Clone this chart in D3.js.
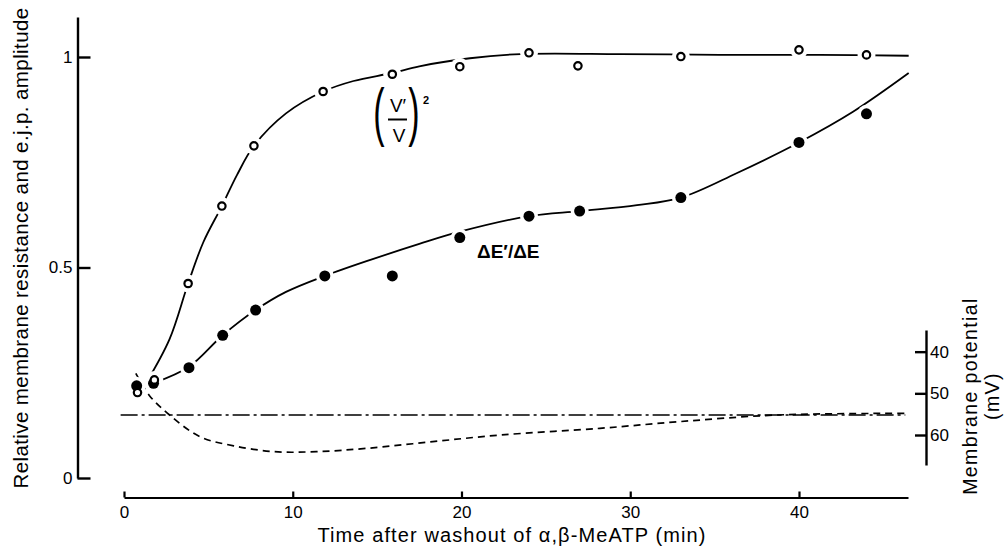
<!DOCTYPE html>
<html>
<head>
<meta charset="utf-8">
<script src="https://cdn.jsdelivr.net/npm/d3@7/dist/d3.min.js"></script>
<style>
  body { margin: 0; background: #fff; }
  svg { font-family: "Liberation Sans", Arial, Helvetica, sans-serif; }
  .axis path, .axis line { stroke: #000; }
  .axis text { font-size: 17px; fill: #000; font-family: "Liberation Sans", Arial, sans-serif; }
</style>
</head>
<body>
<svg id="chart" width="1007" height="552"></svg>
<script>

// (V'/V)^2 points, open circles  (time in min after washout)
var openTimes  = [0.8, 1.8, 3.8, 5.8, 7.7, 11.8, 15.9, 19.9, 24, 26.9, 33, 40, 44];
var openValues = [0.203, 0.233, 0.462, 0.646, 0.789, 0.918, 0.959, 0.977, 1.010, 0.979, 1.001, 1.017, 1.005];

// dE'/dE points, filled circles
var filledTimes  = [0.75, 1.75, 3.85, 5.85, 7.8, 11.9, 15.9, 19.9, 24, 27, 33, 40, 44];
var filledValues = [0.219, 0.225, 0.262, 0.339, 0.399, 0.480, 0.480, 0.571, 0.622, 0.634, 0.666, 0.797, 0.865];

// hand drawn curves through the points
var openFitTimes  = [1.3, 2.7, 3.8, 4.7, 5.8, 6.7, 7.7, 9.6, 11.8, 13.6, 15.9, 17.5, 20.5, 23.5, 29.4, 35.3, 41.2, 46.5];
var openFitValues = [0.225, 0.33, 0.462, 0.56, 0.646, 0.72, 0.789, 0.866, 0.918, 0.943, 0.962, 0.978, 0.997, 1.007, 1.007, 1.005, 1.005, 1.003];

var filledFitTimes  = [1.8, 3.85, 5.85, 7.8, 9.6, 11.9, 14.6, 17.5, 19.9, 24, 27, 30.4, 33, 36.3, 40, 43.2, 46.5];
var filledFitValues = [0.226, 0.264, 0.339, 0.399, 0.442, 0.480, 0.518, 0.556, 0.585, 0.622, 0.634, 0.648, 0.666, 0.724, 0.797, 0.87, 0.962];

// membrane potential (mV), dashed line, right axis
var potTimes  = [0.7, 1.5, 2.7, 4.5, 6.5, 8.9, 11.4, 14.4, 18.3, 22.3, 28.2, 32.9, 38.7, 46.4];
var potValues = [45.2, 50.5, 55.2, 60.4, 62.6, 64.0, 64.0, 63.2, 61.6, 60.0, 58.4, 56.8, 55.2, 54.8];

// resting potential, dash-dot line
var restTimes  = [-0.2, 46.3];
var restValues = [55.2, 55.2];

// tick labels
var xTicks   = [0, 10, 20, 30, 40];
var yTicks   = [0, 0.5, 1];
var potTicks = [40, 50, 60];

var svg = d3.select("#chart");

// scales
var xScale = d3.scaleLinear().domain([0, 46.46]).range([124, 908]);
var yScale = d3.scaleLinear().domain([0, 1.095]).range([478, 17]);
var potScale = d3.scaleLinear().domain([34.8, 67.2]).range([330, 465]);

// left axis, ticks pointing inwards
var yAxis = svg.append("g")
    .attr("class", "axis")
    .attr("transform", "translate(77.5,0)")
    .call(d3.axisLeft(yScale).tickValues(yTicks).tickFormat(d3.format("")).tickSizeInner(-13).tickSizeOuter(0).tickPadding(5));
yAxis.selectAll("path, line").attr("stroke-width", 2.4);

// bottom axis
var xAxis = svg.append("g")
    .attr("class", "axis")
    .attr("transform", "translate(0,497.5)")
    .call(d3.axisBottom(xScale).tickValues(xTicks).tickSizeInner(-6).tickSizeOuter(0).tickPadding(8));
xAxis.selectAll("path, line").attr("stroke-width", 2.2);

// right axis (membrane potential)
var potAxis = svg.append("g")
    .attr("class", "axis")
    .attr("transform", "translate(926,0)")
    .call(d3.axisRight(potScale).tickValues(potTicks).tickSizeInner(-11).tickSizeOuter(0).tickPadding(5));
potAxis.selectAll("path, line").attr("stroke-width", 2.4);
potAxis.selectAll("text").attr("x", 4);

// lines
function makeLine(scaleY) {
    return d3.line()
        .x(function(d) { return xScale(d[0]); })
        .y(function(d) { return scaleY(d[1]); })
        .curve(d3.curveCatmullRom.alpha(0.5));
}

svg.append("path")
    .datum(d3.zip(restTimes, restValues))
    .attr("fill", "none")
    .attr("stroke", "#000")
    .attr("stroke-width", 1.5)
    .attr("stroke-dasharray", "17,4,3,4")
    .attr("d", makeLine(potScale));

svg.append("path")
    .datum(d3.zip(potTimes, potValues))
    .attr("fill", "none")
    .attr("stroke", "#000")
    .attr("stroke-width", 1.7)
    .attr("stroke-dasharray", "7,5")
    .attr("d", makeLine(potScale));

svg.append("path")
    .datum(d3.zip(openFitTimes, openFitValues))
    .attr("fill", "none")
    .attr("stroke", "#000")
    .attr("stroke-width", 1.8)
    .attr("d", makeLine(yScale));

svg.append("path")
    .datum(d3.zip(filledFitTimes, filledFitValues))
    .attr("fill", "none")
    .attr("stroke", "#000")
    .attr("stroke-width", 1.8)
    .attr("d", makeLine(yScale));

var openData = d3.zip(openTimes, openValues);
var filledData = d3.zip(filledTimes, filledValues);

// white halos so the curves break around the points
svg.append("g").selectAll("circle")
    .data(openData.concat(filledData))
    .enter().append("circle")
    .attr("cx", function(d) { return xScale(d[0]); })
    .attr("cy", function(d) { return yScale(d[1]); })
    .attr("r", 9)
    .attr("fill", "#fff");

svg.append("g").selectAll("circle")
    .data(filledData)
    .enter().append("circle")
    .attr("cx", function(d) { return xScale(d[0]); })
    .attr("cy", function(d) { return yScale(d[1]); })
    .attr("r", 5.5)
    .attr("fill", "#000");

svg.append("g").selectAll("circle")
    .data(openData)
    .enter().append("circle")
    .attr("cx", function(d) { return xScale(d[0]); })
    .attr("cy", function(d) { return yScale(d[1]); })
    .attr("r", 3.7)
    .attr("fill", "#fff")
    .attr("stroke", "#000")
    .attr("stroke-width", 2.2);

// axis titles
svg.append("text")
    .attr("transform", "translate(28,248) rotate(-90)")
    .attr("text-anchor", "middle")
    .style("font-size", "20.5px")
    .style("letter-spacing", "0.4px")
    .text("Relative membrane resistance and e.j.p. amplitude");

svg.append("text")
    .attr("x", 512)
    .attr("y", 542)
    .attr("text-anchor", "middle")
    .style("font-size", "20px")
    .style("letter-spacing", "1.1px")
    .text("Time after washout of \u03b1,\u03b2-MeATP (min)");

svg.append("text")
    .attr("transform", "translate(977,396) rotate(-90)")
    .attr("text-anchor", "middle")
    .style("font-size", "19.5px")
    .style("letter-spacing", "1.4px")
    .text("Membrane potential");

svg.append("text")
    .attr("transform", "translate(999,396) rotate(-90)")
    .attr("text-anchor", "middle")
    .style("font-size", "19.5px")
    .style("letter-spacing", "1.4px")
    .text("(mV)");

// (V'/V)^2 label
var frac = svg.append("g");
frac.append("text")
    .attr("transform", "translate(379,118) scale(0.85,1.6)")
    .attr("y", 10)
    .attr("text-anchor", "middle")
    .style("font-size", "40px")
    .text("(");
frac.append("text")
    .attr("transform", "translate(414,118) scale(0.85,1.6)")
    .attr("y", 10)
    .attr("text-anchor", "middle")
    .style("font-size", "40px")
    .text(")");
frac.append("text")
    .attr("x", 398)
    .attr("y", 112)
    .attr("text-anchor", "middle")
    .style("font-size", "19px")
    .text("V\u2032");
frac.append("line")
    .attr("x1", 388).attr("x2", 407)
    .attr("y1", 119.5).attr("y2", 119.5)
    .attr("stroke", "#000")
    .attr("stroke-width", 2);
frac.append("text")
    .attr("x", 399)
    .attr("y", 142)
    .attr("text-anchor", "middle")
    .style("font-size", "19px")
    .text("V");
frac.append("text")
    .attr("x", 423)
    .attr("y", 104)
    .style("font-size", "11px")
    .style("font-weight", "bold")
    .text("2");

// dE'/dE label
svg.append("text")
    .attr("x", 477)
    .attr("y", 258)
    .style("font-size", "19px")
    .style("font-weight", "bold")
    .text("\u0394E\u2032/\u0394E");

</script>
</body>
</html>
